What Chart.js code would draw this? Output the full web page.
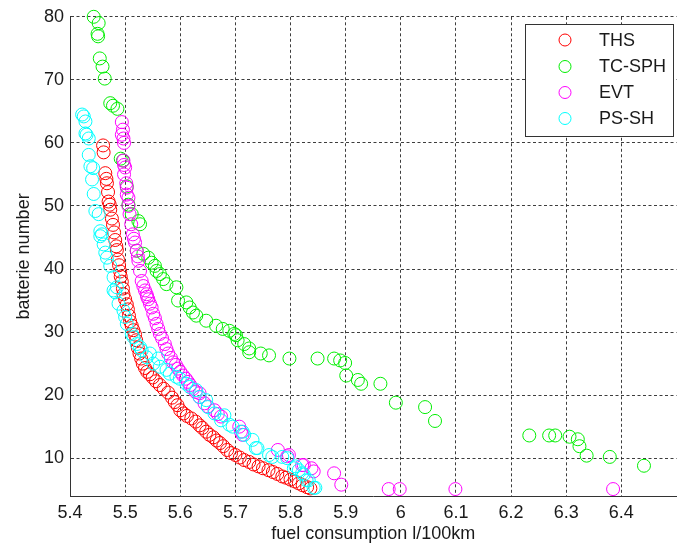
<!DOCTYPE html>
<html>
<head>
<meta charset="utf-8">
<script src="https://cdn.jsdelivr.net/npm/chart.js@4/dist/chart.umd.min.js"></script>
<style>
html,body{margin:0;padding:0;background:#fff;}
#wrap{width:684px;height:548px;}
</style>
</head>
<body>
<div id="wrap"><canvas id="c" width="684" height="548"></canvas></div>
<script>
const seriesNames = ["THS", "TC-SPH", "EVT", "PS-SH"];
const xTicks = [5.4, 5.5, 5.6, 5.7, 5.8, 5.9, 6.0, 6.1, 6.2, 6.3, 6.4];
const yTicks = [10, 20, 30, 40, 50, 60, 70, 80];
const xLabel = "fuel consumption l/100km";
const yLabel = "batterie number";

const thsData = [[5.460,59.6],[5.461,58.5],[5.464,55.2],[5.466,54.3],[5.467,53.6],[5.469,52.2],[5.470,50.7],[5.472,50.2],[5.473,49.4],[5.476,48.0],[5.478,47.0],[5.480,45.8],[5.482,44.6],[5.484,43.6],[5.485,43.0],[5.487,41.5],[5.489,40.6],[5.491,39.6],[5.492,38.8],[5.494,38.0],[5.496,36.9],[5.497,36.0],[5.500,35.2],[5.503,34.4],[5.505,33.6],[5.507,32.6],[5.509,31.7],[5.512,31.0],[5.515,30.3],[5.518,29.6],[5.520,28.7],[5.523,27.5],[5.526,26.6],[5.529,25.8],[5.532,25.0],[5.536,24.3],[5.540,23.7],[5.545,23.3],[5.550,22.8],[5.556,22.2],[5.563,21.6],[5.570,21.0],[5.578,20.4],[5.585,19.6],[5.590,18.9],[5.595,18.4],[5.600,17.6],[5.606,17.1],[5.612,16.7],[5.620,16.3],[5.628,15.8],[5.635,15.2],[5.640,14.8],[5.647,14.2],[5.653,13.7],[5.660,13.3],[5.666,12.8],[5.672,12.4],[5.678,11.9],[5.685,11.3],[5.692,10.8],[5.700,10.5],[5.708,10.1],[5.716,9.7],[5.725,9.4],[5.733,9.0],[5.742,8.7],[5.750,8.4],[5.760,8.1],[5.768,7.8],[5.776,7.5],[5.785,7.1],[5.792,6.9],[5.800,6.6],[5.808,6.3],[5.815,6.0],[5.822,5.7],[5.830,5.4],[5.836,5.2]];

const tcsphData = [[5.443,80.0],[5.452,79.0],[5.450,77.3],[5.451,76.9],[5.454,73.4],[5.459,72.1],[5.463,70.2],[5.473,66.3],[5.478,65.9],[5.486,65.4],[5.492,57.5],[5.496,57.2],[5.503,53.1],[5.506,50.2],[5.512,48.7],[5.524,47.6],[5.527,47.1],[5.521,42.9],[5.533,42.4],[5.542,41.8],[5.548,41.0],[5.554,40.5],[5.557,39.7],[5.563,39.2],[5.569,38.4],[5.575,37.6],[5.593,37.1],[5.596,35.0],[5.611,34.7],[5.617,33.9],[5.623,33.1],[5.629,32.6],[5.647,31.8],[5.665,31.0],[5.677,30.5],[5.689,30.2],[5.698,29.7],[5.704,28.7],[5.701,29.5],[5.716,28.1],[5.725,27.4],[5.725,26.8],[5.746,26.6],[5.761,26.3],[5.798,25.8],[5.849,25.8],[5.879,25.8],[5.890,25.5],[5.899,25.1],[5.901,23.1],[5.922,22.4],[5.928,21.8],[5.963,21.8],[5.991,18.8],[6.044,18.1],[6.062,15.9],[6.233,13.6],[6.269,13.6],[6.280,13.6],[6.306,13.4],[6.321,13.0],[6.324,11.9],[6.337,10.4],[6.379,10.2],[6.441,8.8]];

const evtData = [[5.494,63.3],[5.496,62.1],[5.497,60.7],[5.498,60.0],[5.494,61.3],[5.497,57.2],[5.498,56.5],[5.500,56.1],[5.498,55.0],[5.502,53.6],[5.503,52.9],[5.503,51.8],[5.506,51.3],[5.506,50.0],[5.508,48.7],[5.511,47.1],[5.514,45.5],[5.516,44.8],[5.518,44.2],[5.521,42.9],[5.523,42.0],[5.524,41.3],[5.527,39.7],[5.530,38.1],[5.533,37.3],[5.536,36.6],[5.539,36.0],[5.540,35.6],[5.542,35.2],[5.545,34.5],[5.548,33.9],[5.551,32.9],[5.554,32.2],[5.557,31.3],[5.560,30.5],[5.563,29.7],[5.567,29.0],[5.572,28.1],[5.575,27.3],[5.578,26.6],[5.583,25.9],[5.587,25.2],[5.592,24.8],[5.596,24.2],[5.600,23.7],[5.605,23.1],[5.610,22.6],[5.614,22.1],[5.618,21.6],[5.623,21.0],[5.628,20.5],[5.635,20.3],[5.635,19.7],[5.644,18.7],[5.650,18.2],[5.662,17.6],[5.668,17.0],[5.674,16.6],[5.707,15.0],[5.710,14.2],[5.713,13.7],[5.777,11.3],[5.794,10.3],[5.797,10.5],[5.821,8.9],[5.824,8.9],[5.838,8.4],[5.842,7.9],[5.879,7.6],[5.892,5.8],[5.978,5.1],[5.998,5.1],[6.099,5.1],[6.385,5.1]];

const psshData = [[5.422,64.5],[5.425,64.2],[5.428,63.4],[5.428,61.5],[5.430,61.3],[5.434,60.7],[5.434,58.1],[5.437,56.3],[5.442,56.0],[5.440,54.2],[5.443,51.9],[5.446,49.2],[5.452,48.7],[5.455,46.0],[5.455,45.2],[5.458,45.5],[5.461,43.9],[5.464,42.6],[5.467,41.8],[5.473,40.5],[5.479,38.7],[5.485,37.1],[5.482,36.3],[5.479,36.6],[5.488,34.5],[5.497,33.4],[5.500,32.4],[5.503,31.3],[5.512,29.7],[5.515,29.2],[5.521,28.1],[5.527,27.6],[5.530,27.1],[5.539,26.0],[5.545,26.6],[5.551,25.0],[5.560,25.8],[5.563,24.5],[5.575,24.0],[5.581,23.4],[5.593,22.9],[5.599,22.6],[5.611,21.8],[5.617,21.3],[5.629,20.8],[5.635,19.7],[5.647,19.2],[5.650,18.1],[5.662,17.1],[5.674,16.0],[5.680,16.8],[5.689,15.3],[5.695,15.0],[5.713,14.2],[5.716,13.7],[5.731,12.9],[5.737,11.6],[5.740,11.6],[5.761,10.5],[5.767,10.2],[5.785,10.2],[5.794,10.0],[5.806,8.4],[5.809,8.7],[5.815,8.1],[5.821,7.6],[5.824,7.4],[5.829,6.5],[5.833,6.5],[5.842,5.3],[5.845,5.3]];

const seriesData = [thsData, tcsphData, evtData, psshData];
const seriesColors = ["#ff0000", "#00ee00", "#ff00ff", "#00ffff"];

const FONT = "'Liberation Sans', Arial, Helvetica, sans-serif";
const TEXT = "#1a1a1a";

const datasets = seriesNames.map((name, i) => ({
  label: name,
  data: seriesData[i].map(p => ({x: p[0], y: p[1]})),
  borderColor: seriesColors[i],
  backgroundColor: "rgba(0,0,0,0)",
  pointBackgroundColor: "rgba(0,0,0,0)",
  pointBorderColor: seriesColors[i],
  pointBorderWidth: 1,
  pointRadius: 6.5,
  pointHoverRadius: 6.5,
  pointStyle: "circle",
  showLine: false,
  clip: false,
  order: seriesNames.length - i
}));

const legendPlugin = {
  id: "boxLegend",
  afterDraw(chart) {
    const ctx = chart.ctx;
    const bx = 525.5, by = 24.5, bw = 148, bh = 112;
    ctx.save();
    ctx.fillStyle = "#fff";
    ctx.fillRect(bx, by, bw, bh);
    ctx.strokeStyle = "#333";
    ctx.lineWidth = 1;
    ctx.strokeRect(bx, by, bw, bh);
    ctx.font = "18px " + FONT;
    ctx.textBaseline = "middle";
    ctx.textAlign = "left";
    const rows = [40, 66.5, 92.5, 118.5];
    seriesNames.forEach((name, i) => {
      ctx.beginPath();
      ctx.strokeStyle = seriesColors[i];
      ctx.arc(565, rows[i], 6, 0, Math.PI * 2);
      ctx.stroke();
      ctx.fillStyle = TEXT;
      ctx.fillText(name, 599, rows[i] + 1);
    });
    ctx.restore();
  }
};

new Chart(document.getElementById("c"), {
  type: "scatter",
  data: { datasets },
  options: {
    responsive: false,
    animation: false,
    events: [],
    layout: { padding: { top: 15, right: 3, left: 0, bottom: 0 } },
    plugins: { legend: { display: false }, tooltip: { enabled: false } },
    scales: {
      x: {
        type: "linear",
        min: 5.4,
        max: 6.5,
        afterBuildTicks(scale) { scale.ticks = xTicks.map(v => ({value: v})); },
        afterFit(scale) { scale.height = 52; },
        ticks: {
          color: TEXT,
          font: { family: FONT, size: 18 },
          padding: 6,
          maxRotation: 0,
          autoSkip: false,
          callback: v => (Math.round(v * 10) / 10).toString()
        },
        grid: { color: "rgba(40,40,40,0.9)", lineWidth: 1, drawTicks: false },
        border: { display: true, color: "#333", width: 1, dash: [3, 2.5] },
        title: {
          display: true,
          text: xLabel,
          color: TEXT,
          font: { family: FONT, size: 18 },
          padding: { top: 0, bottom: 3 }
        }
      },
      y: {
        type: "linear",
        min: 4,
        max: 80,
        afterBuildTicks(scale) { scale.ticks = yTicks.map(v => ({value: v})); },
        afterFit(scale) { scale.width = 70; },
        ticks: {
          color: TEXT,
          font: { family: FONT, size: 18 },
          padding: 6,
          autoSkip: false
        },
        grid: { color: "rgba(40,40,40,0.9)", lineWidth: 1, drawTicks: false },
        border: { display: true, color: "#333", width: 1, dash: [3, 2.5] },
        title: {
          display: true,
          text: yLabel,
          color: TEXT,
          font: { family: FONT, size: 18 },
          padding: { top: 13, bottom: 0 }
        }
      }
    }
  },
  plugins: [legendPlugin]
});
</script>
</body>
</html>
